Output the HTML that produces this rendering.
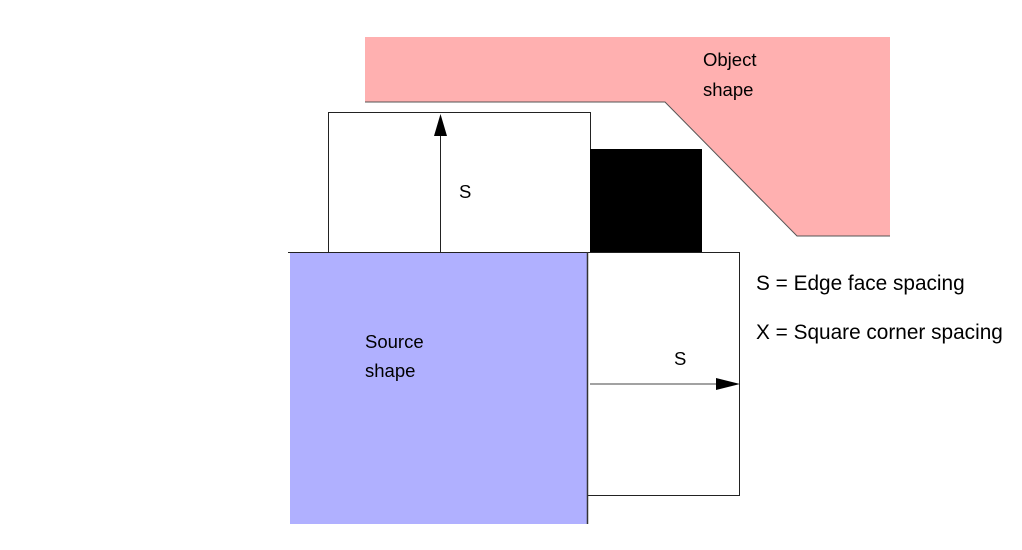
<!DOCTYPE html>
<html><head><style>body{margin:0;background:#fff}</style></head><body>
<svg width="1022" height="550" xmlns="http://www.w3.org/2000/svg" style="display:block;font-family:'Liberation Sans',sans-serif">
<polygon points="365,37 890,37 890,236 797,236 665,102 365,102" fill="#ffb0b0"/>
<polyline points="365,102 665,102 797,236 890,236" fill="none" stroke="#555" stroke-width="1"/>
<rect x="290" y="253" width="298" height="271" fill="#b0b0ff"/>
<rect x="328.5" y="112.5" width="262" height="140" fill="#fff" stroke="#222" stroke-width="1"/>
<rect x="590" y="149" width="112" height="104" fill="#000"/>
<rect x="587.5" y="252.5" width="152" height="243" fill="#fff" stroke="#222" stroke-width="1"/>
<line x1="288" y1="252.5" x2="740" y2="252.5" stroke="#222" stroke-width="1"/>
<line x1="587.5" y1="252" x2="587.5" y2="524" stroke="#333" stroke-width="1.5"/>
<line x1="440.5" y1="252" x2="440.5" y2="130" stroke="#222" stroke-width="1"/>
<polygon points="440.5,114 434,136 447,136" fill="#000"/>
<line x1="590" y1="384" x2="720" y2="384" stroke="#444" stroke-width="1"/>
<polygon points="740,384 716,378 716,390" fill="#000"/>
<g font-size="18.5" fill="#000">
<text x="703" y="66">Object</text>
<text x="703" y="96">shape</text>
<text x="459" y="198">S</text>
<text x="365" y="348">Source</text>
<text x="365" y="377">shape</text>
<text x="674" y="365">S</text>
</g>
<g font-size="20.8" fill="#000">
<text x="756" y="290">S = Edge face spacing</text>
<text x="756" y="339">X = Square corner spacing</text>
</g>
</svg>
</body></html>
